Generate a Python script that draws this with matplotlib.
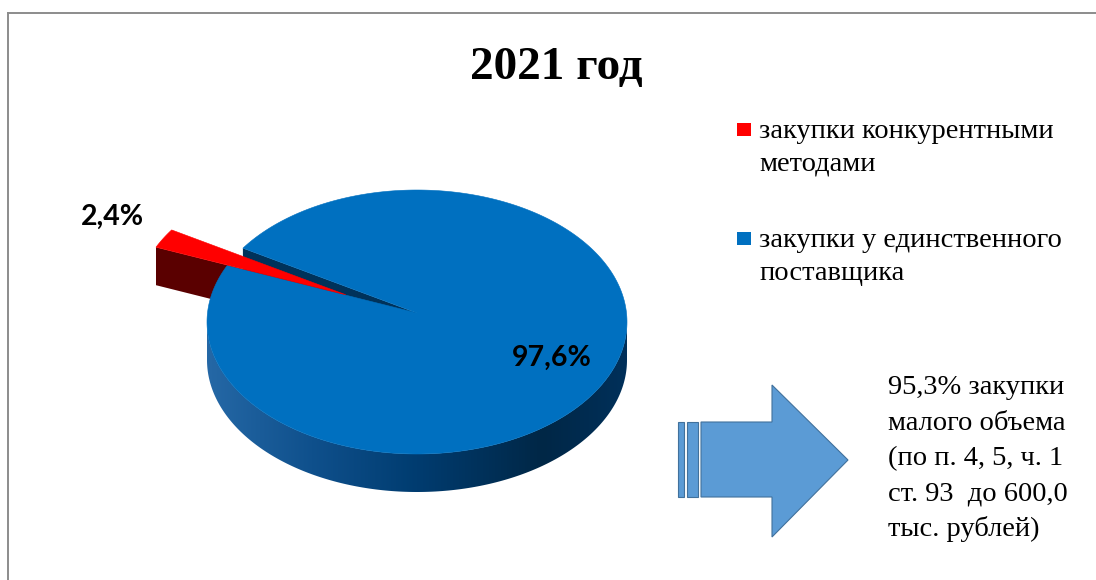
import numpy as np
import matplotlib.pyplot as plt
from matplotlib.patches import Polygon, Rectangle
from matplotlib.colors import LinearSegmentedColormap

# chart data
title = "2021 год"
categories = ["закупки конкурентными\nметодами", "закупки у единственного\nпоставщика"]
shares = [2.4, 97.6]
share_labels = ["2,4%", "97,6%"]
note_lines = ["95,3% закупки", "малого объема", "(по п. 4, 5, ч. 1",
              "ст. 93  до 600,0", "тыс. рублей)"]

colors = ["#FF0000", "#0070C0"]
side_colors = ["#5A0000", "#00325A"]
explode = [82, 0]

W, H = 1096, 580
fig = plt.figure(figsize=(W / 100, H / 100), dpi=100)
ax = fig.add_axes([0, 0, 1, 1])

# pie geometry in pixel units
cx, cy = 417, 322
rx, ry = 210, 132
apex_y = 313
depth = 38
start = 146.0

fracs = np.array(shares) / np.sum(shares)
a0 = start + 360 * np.concatenate([[0], np.cumsum(fracs)[:-1]])
a1 = a0 + 360 * fracs


def rim(t, dx=0.0, dy=0.0):
    t = np.radians(t)
    return cx + dx + rx * np.cos(t), cy + dy - ry * np.sin(t)


def offset(i):
    # explode direction flattened a bit (perspective look)
    mid = np.radians((a0[i] + a1[i]) / 2)
    return explode[i] * np.cos(mid), -explode[i] * np.sin(mid) * 0.45


side_cmap = LinearSegmentedColormap.from_list(
    "side", [(0, "#2568A6"), (0.25, "#0F508C"), (0.5, "#003C70"),
             (0.8, "#002746"), (1, "#00305A")])

# outer walls (front half only)
for i in range(len(shares)):
    dx, dy = offset(i)
    for k in range(-1, 3):
        lo = max(a0[i], 180 + 360 * k)
        hi = min(a1[i], 360 + 360 * k)
        if hi <= lo:
            continue
        t = np.linspace(lo, hi, 200)
        xt, yt = rim(t, dx, dy)
        pts = np.vstack([np.column_stack([xt, yt]),
                         np.column_stack([xt[::-1], yt[::-1] + depth])])
        wall = Polygon(pts, closed=True, fc="none", ec="none")
        ax.add_patch(wall)
        im = ax.imshow(np.linspace(0, 1, 256)[None, :], cmap=side_cmap,
                       extent=(cx - rx, cx + rx, cy + ry + depth + 5, cy - ry),
                       aspect="auto", zorder=1)
        im.set_clip_path(wall)

# radial faces that face the viewer (blue first, red in front)
for i in [1, 0]:
    dx, dy = offset(i)
    ax_, ay_ = cx + dx, apex_y + dy
    for ang, visible in [(a0[i], np.cos(np.radians(a0[i])) > 0),
                         (a1[i], np.cos(np.radians(a1[i])) < 0)]:
        if not visible:
            continue
        xr, yr = rim(ang, dx, dy)
        pts = [(ax_, ay_), (xr, yr), (xr, yr + depth), (ax_, ay_ + depth)]
        ax.add_patch(Polygon(pts, closed=True, fc=side_colors[i], ec="none", zorder=2))

# top faces
for i in [1, 0]:
    dx, dy = offset(i)
    t = np.linspace(a0[i], a1[i], 400)
    xt, yt = rim(t, dx, dy)
    pts = np.vstack([[cx + dx, apex_y + dy], np.column_stack([xt, yt])])
    ax.add_patch(Polygon(pts, closed=True, fc=colors[i], ec=colors[i], lw=0.4, zorder=3))

# data labels
label_pos = [(112, 217), (552, 358)]
for (x, y), s in zip(label_pos, share_labels):
    ax.text(x, y, s, ha="center", va="center", fontsize=20.5, fontweight="bold",
            family="Lato", color="black", zorder=5)

# title
ax.text(556, 79, title, ha="center", va="baseline", fontsize=34, fontweight="bold",
        family="Liberation Serif")

# legend
leg_y = [123, 232]
for i, lab in enumerate(categories):
    ax.add_patch(Rectangle((737, leg_y[i]), 14, 13, fc=colors[i], ec="none"))
    for j, line in enumerate(lab.split("\n")):
        ax.text(759, leg_y[i] + 15 + 33 * j, line, ha="left", va="baseline",
                fontsize=20.5, family="Liberation Serif")

# block arrow
ax.add_patch(Rectangle((678, 422), 6, 75, fc="#5B9BD5", ec="#41719C", lw=0.8))
ax.add_patch(Rectangle((687, 422), 11, 75, fc="#5B9BD5", ec="#41719C", lw=0.8))
arrow = [(701, 422), (772, 422), (772, 385), (848, 460), (772, 537), (772, 497), (701, 497)]
ax.add_patch(Polygon(arrow, closed=True, fc="#5B9BD5", ec="#41719C", lw=0.8))

for j, line in enumerate(note_lines):
    ax.text(888, 394 + 35.5 * j, line, ha="left", va="baseline", fontsize=20.5,
            family="Liberation Serif")

# chart frame
ax.plot([7.5, W], [12.5, 12.5], color="#8C8C8C", lw=1.4)
ax.plot([7.5, 7.5], [12.5, H], color="#8C8C8C", lw=1.4)

ax.set_xlim(0, W)
ax.set_ylim(H, 0)
ax.axis("off")

plt.savefig("out.png", dpi=100)
plt.close()
